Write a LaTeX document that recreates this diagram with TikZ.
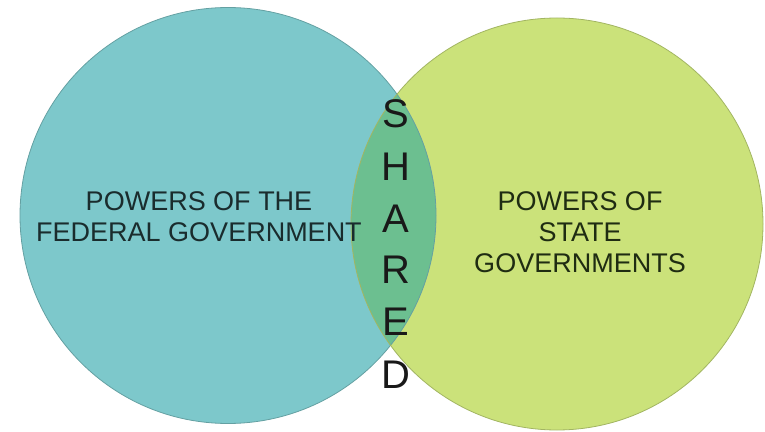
\documentclass[tikz,border=0pt]{standalone}
\usepackage{fontspec}
\setmainfont{Liberation Sans}
\usepackage{tikz}
\definecolor{fedteal}{HTML}{7DC8CB}
\definecolor{statelime}{HTML}{CBE27A}
\definecolor{sharedgreen}{HTML}{6CBF90}
\definecolor{fedink}{HTML}{1A2C2D}
\definecolor{stateink}{HTML}{1F2C12}

\begin{document}
\begin{tikzpicture}[x=1pt, y=1pt,
	  label/.style={align=center, font=\fontsize{27}{31}\selectfont},
	  letter/.style={font=\fontsize{40}{40}\selectfont, text=black!90}]
	  \useasboundingbox (0,0) rectangle (765,431);
	  \coordinate (fed) at (228,215.5);
	  \coordinate (state) at (557,207);
	  \fill [fedteal] (fed) circle (208);
	  \fill [statelime] (state) circle (206);
	  \begin{scope}
	    \clip (fed) circle (208);
	    \fill [sharedgreen] (state) circle (206);
	  \end{scope}
	  \draw [fedteal!80!black, line width=0.8pt] (fed) circle (208);
	  \draw [statelime!80!black, line width=0.8pt] (state) circle (206);
	  \node [label, text=fedink] (fedtext) at (199,214) {POWERS OF THE\\FEDERAL GOVERNMENT};
	  \node [label, text=stateink] (statetext) at (580,199) {POWERS OF\\STATE\\GOVERNMENTS};
	  \foreach \ch/\y [count=\i] in {S/317, H/264, A/212, R/161, E/109, D/56}
	    \node [letter] (shared\i) at (396,\y) {\ch};
	 \end{tikzpicture}
\end{document}
